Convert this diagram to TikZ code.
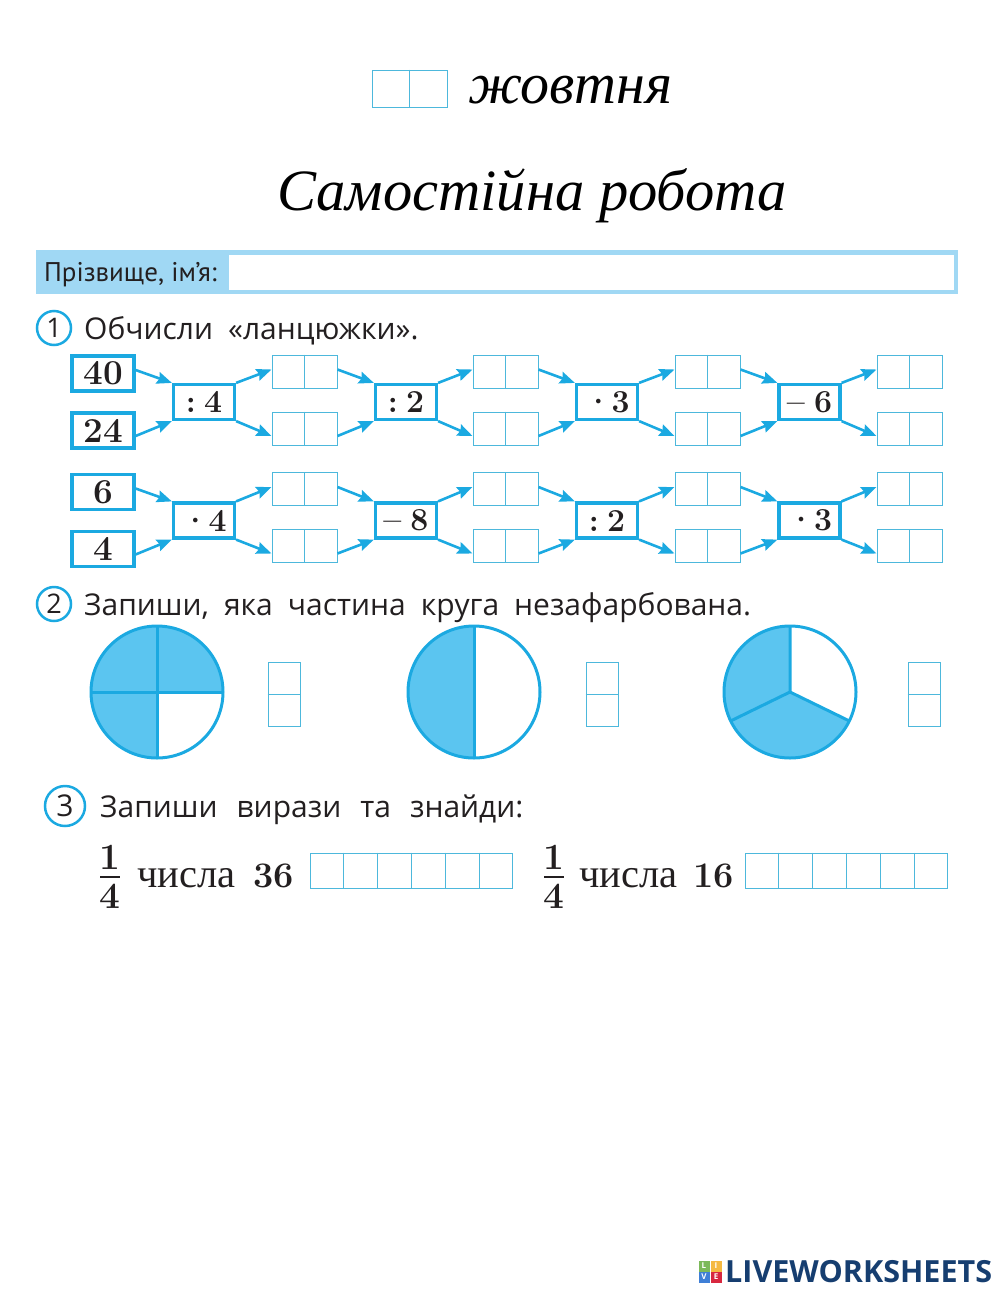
\documentclass[tikz,border=0pt]{standalone}
\usepackage{fontspec}
\usetikzlibrary{arrows.meta,calc}
\newfontfamily\bodyfont{Open Sans}
\newfontfamily\nameFont{PT Sans}
\newfontfamily\handfont{Liberation Serif}
\newfontfamily\serfont{Liberation Serif}
\definecolor{cyanline}{HTML}{1BA9E1}
\definecolor{cellline}{HTML}{4DB8DC}
\definecolor{pieblue}{HTML}{5BC5F0}
\definecolor{bandblue}{HTML}{A0D8F4}
\definecolor{inkblack}{HTML}{231F20}
\definecolor{logoblue}{HTML}{163E70}
\newcommand{\widewords}{\spaceskip 15pt\relax}
\newcommand{\widerwords}{\spaceskip 19pt\relax}
\tikzset{
  cellpair/.style={draw=cellline, line width=1pt, minimum width=65pt, minimum height=33pt, inner sep=0pt},
  cellstack/.style={draw=cellline, line width=1pt, minimum width=32pt, minimum height=64pt, inner sep=0pt},
  cellrow/.style={draw=cellline, line width=1pt, minimum width=202pt, minimum height=35pt, inner sep=0pt},
  startbox/.style={draw=cyanline, line width=3.2pt, minimum width=62pt, minimum height=35pt, inner sep=0pt, text=inkblack, font=\bfseries\fontsize{35}{37}\selectfont},
  opbox/.style={draw=cyanline, line width=3.2pt, minimum width=61pt, minimum height=35pt, inner sep=0pt, text=inkblack, font=\bfseries\fontsize{32}{34}\selectfont},
  flow/.style={draw=cyanline, line width=2.6pt, -{Stealth[length=15pt,width=12pt,inset=2pt]}},
  numring/.style={circle, draw=cyanline, line width=2.5pt, inner sep=0pt, text=inkblack, font=\bodyfont\fontsize{27}{29}\selectfont},
  tasktext/.style={anchor=base west, inner sep=0pt, text=inkblack, font=\bodyfont\fontsize{30}{32}\selectfont\widewords},
  mathtext/.style={anchor=base west, inner sep=0pt, text=inkblack, font=\bfseries\fontsize{36}{38}\selectfont},
  wordtext/.style={anchor=base west, inner sep=0pt, text=inkblack, font=\serfont\fontsize{40.5}{42}\selectfont},
  fractext/.style={anchor=base, inner sep=0pt, text=inkblack, font=\bfseries\fontsize{37}{39}\selectfont},
  piefill/.style={fill=pieblue},
  pieline/.style={draw=cyanline, line width=3pt},
  logotile/.style={minimum size=11pt, inner sep=0pt, text=white, font=\bodyfont\bfseries\fontsize{8}{8}\selectfont}
}
\newcommand{\opdot}[1]{\textperiodcentered\hspace{-1pt}#1\hspace{10pt}}
\newcommand{\opminus}{–\hspace{9pt}}
\begin{document}
\begin{tikzpicture}[x=1pt,y=-1pt]
\useasboundingbox (0,0) rectangle (1000,1291);
% heading
\node[cellpair, minimum width=75pt, minimum height=37pt] (date) at (409.5,88.5) {};
\draw[draw=cellline, line width=1pt] (date.north) -- (date.south);
\node[anchor=base west, inner sep=0pt, text=black, font=\handfont\itshape\fontsize{58}{60}\selectfont] (month) at (468,103) {жовтня};
\node[anchor=base west, inner sep=0pt, text=black, font=\handfont\itshape\fontsize{58.5}{62}\selectfont] (title) at (277,210) {Самостійна робота};
% name band
\fill[bandblue] (36,250) rectangle (958,294);
\fill[white] (229,255) rectangle (954,290);
\node[anchor=base west, inner sep=0pt, text=inkblack, font=\nameFont\fontsize{27}{29}\selectfont] (surname) at (44,281) {Прізвище, ім’я:};
% task 1
\node[numring, minimum size=34pt] (one) at (54,328) {1};
\node[tasktext] (taskone) at (84,339) {Обчисли «ланцюжки».};
\node[startbox] (sa1) at (103,373.5) {40};
\node[startbox] (sa2) at (103,430.5) {24};
\node[startbox] (sb1) at (103,492) {6};
\node[startbox] (sb2) at (103,549) {4};
\node[opbox] (opa1) at (204,402) {:\hspace{8pt}4};
\node[opbox] (opa2) at (406,402) {:\hspace{8pt}2};
\node[opbox] (opa3) at (607,402) {\opdot{3}};
\node[opbox] (opa4) at (809.5,402) {\opminus 6};
\node[opbox] (opb1) at (204,520.5) {\opdot{4}};
\node[opbox] (opb2) at (406,520.5) {\opminus 8};
\node[opbox] (opb3) at (607,520.5) {:\hspace{8pt}2};
\node[opbox] (opb4) at (809.5,520.5) {\opdot{3}};
\foreach \r/\ya/\yb in {a/371.5/428.5,b/489/546}{
  \foreach \i/\xc in {1/304.5,2/505.5,3/707.5,4/909.5}{
    \node[cellpair] (u\r\i) at (\xc,\ya) {};
    \node[cellpair] (d\r\i) at (\xc,\yb) {};
    \draw[draw=cellline, line width=1pt] (u\r\i.north) -- (u\r\i.south);
    \draw[draw=cellline, line width=1pt] (d\r\i.north) -- (d\r\i.south);
    \draw[flow] (op\r\i.north east) -- ([yshift=2pt]u\r\i.west);
    \draw[flow] (op\r\i.south east) -- ([yshift=-7.5pt]d\r\i.west);
  }
  \draw[flow] ([yshift=3.5pt]s\r1.east) -- (op\r1.north west);
  \draw[flow] ([yshift=-5.5pt]s\r2.east) -- (op\r1.south west);
  \foreach \i/\j in {1/2,2/3,3/4}{
    \draw[flow] ([yshift=2pt]u\r\i.east) -- (op\r\j.north west);
    \draw[flow] ([yshift=-7.5pt]d\r\i.east) -- (op\r\j.south west);
  }
}
% task 2
\node[numring, minimum size=34pt] (two) at (54,604) {2};
\node[tasktext] (tasktwo) at (84,615) {Запиши, яка частина круга незафарбована.};
% pies
\fill[piefill] (157,692) -- ++(90:66) arc[start angle=90,end angle=360,radius=66] -- cycle;
\draw[pieline] (157,692) circle[radius=66];
\draw[pieline] (157,626) -- (157,758) (91,692) -- (223,692);
\fill[piefill] (474,692) -- ++(90:66) arc[start angle=90,end angle=270,radius=66] -- cycle;
\draw[pieline] (474,692) circle[radius=66];
\draw[pieline] (474,626) -- (474,758);
\fill[piefill] (790,692) -- ++(26:66) arc[start angle=26,end angle=270,radius=66] -- cycle;
\draw[pieline] (790,692) circle[radius=66];
\draw[pieline] (790,692) -- ++(270:66) (790,692) -- ++(26:66) (790,692) -- ++(154:66);
\foreach \n/\xc in {1/284,2/602,3/924}{
  \node[cellstack] (frac\n) at (\xc,694) {};
  \draw[draw=cellline, line width=1pt] (frac\n.west) -- (frac\n.east);
}
% task 3
\node[numring, minimum size=40pt, font=\bodyfont\fontsize{30}{32}\selectfont] (three) at (65,806) {3};
\node[tasktext, font=\bodyfont\fontsize{30}{32}\selectfont\widerwords] (taskthree) at (100,817) {Запиши вирази та знайди:};
\node[fractext] (fatop) at (110,869) {1};
\node[fractext] (fabot) at (110,908) {4};
\draw[inkblack, line width=2pt] (100,877) -- (120,877);
\node[wordtext] (wa) at (137,887) {числа};
\node[mathtext] (na) at (253,887) {36};
\node[fractext] (fbtop) at (554,869) {1};
\node[fractext] (fbbot) at (554,908) {4};
\draw[inkblack, line width=2pt] (544,877) -- (564,877);
\node[wordtext] (wb) at (579,887) {числа};
\node[mathtext] (nb) at (693,887) {16};
\foreach \n/\xc in {a/411.5,b/846.5}{
  \node[cellrow] (long\n) at (\xc,870.5) {};
  \foreach \k in {1,...,5}{
    \draw[draw=cellline, line width=1pt] ($(long\n.north west)!\k/6!(long\n.north east)$) -- ($(long\n.south west)!\k/6!(long\n.south east)$);
  }
}
% logo
\node[logotile, fill={rgb,255:red,124;green,185;blue,90}] (tl) at (704,1266) {L};
\node[logotile, fill={rgb,255:red,245;green,185;blue,66}] (ti) at (716,1266) {I};
\node[logotile, fill={rgb,255:red,63;green,127;blue,214}] (tv) at (704,1277) {V};
\node[logotile, fill={rgb,255:red,216;green,40;blue,63}] (te) at (716,1277) {E};
\node[anchor=base west, inner sep=0pt, text=logoblue, font=\bodyfont\bfseries\fontsize{30.5}{33}\selectfont] (brand) at (725,1282) {LIVEWORKSHEETS};
\end{tikzpicture}
\end{document}
